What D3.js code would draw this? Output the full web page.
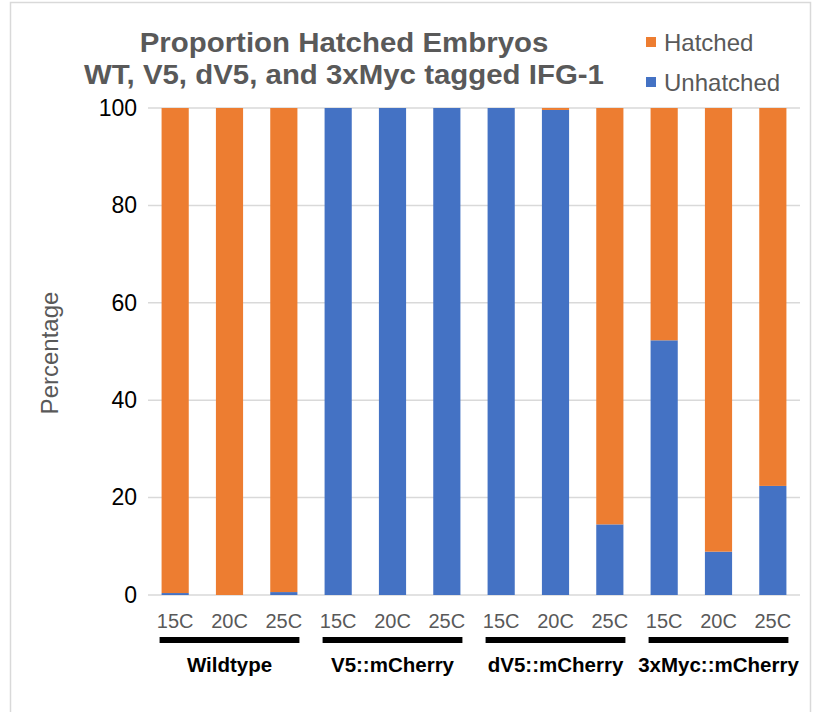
<!DOCTYPE html>
<html><head><meta charset="utf-8">
<script src="https://cdn.jsdelivr.net/npm/d3@7"></script>
<style>body{margin:0;background:#fff;}svg{display:block;font-family:"Liberation Sans",Arial,sans-serif;}</style>
</head><body>
<svg id="chart" width="817" height="712"></svg>
<script>
const groups = ["Wildtype", "V5::mCherry", "dV5::mCherry", "3xMyc::mCherry"];
const temps = ["15C", "20C", "25C"];
const unhatched = [0.4, 0, 0.6, 100, 100, 100, 100, 99.6, 14.5, 52.3, 8.9, 22.4];
const hatched = [99.6, 100, 99.4, 0, 0, 0, 0, 0.4, 85.5, 47.7, 91.1, 77.6];
const yTicks = [0, 20, 40, 60, 80, 100];
const titleLines = ["Proportion Hatched Embryos", "WT, V5, dV5, and 3xMyc tagged IFG-1"];
const seriesNames = ["Hatched", "Unhatched"];
const colors = {Hatched: "#ED7D31", Unhatched: "#4472C4"};

const svg = d3.select("#chart");
// frame
svg.append("rect").attr("x", 10.5).attr("y", 2.5).attr("width", 800).attr("height", 720)
  .attr("fill", "#fff").attr("stroke", "#d9d9d9").attr("stroke-width", 1.5);

const cats = d3.range(groups.length * temps.length);
const x = d3.scaleBand().domain(cats).range([148, 800]).paddingInner(0.5).paddingOuter(0.25);
const y = d3.scaleLinear().domain([0, 100]).range([595, 108]);

// gridlines
svg.append("g").selectAll("line").data(yTicks).join("line")
  .attr("x1", 148).attr("x2", 800)
  .attr("y1", d => y(d)).attr("y2", d => y(d))
  .attr("stroke", "#d9d9d9").attr("stroke-width", 1.5);

// y axis labels
const yAxis = svg.append("g").attr("transform", "translate(140,0)")
  .call(d3.axisLeft(y).tickValues(yTicks).tickSize(0).tickPadding(3));
yAxis.select(".domain").remove();
yAxis.selectAll("text").attr("font-size", 23).attr("fill", "#000")
  .attr("font-family", "Liberation Sans, Arial, sans-serif");

// stacked bars
const rows = cats.map(i => ({i, Unhatched: unhatched[i], Hatched: hatched[i]}));
const stack = d3.stack().keys(["Unhatched", "Hatched"])(rows);
svg.append("g").selectAll("g").data(stack).join("g")
  .attr("fill", d => colors[d.key])
  .selectAll("rect").data(d => d).join("rect")
  .attr("x", d => x(d.data.i))
  .attr("width", x.bandwidth())
  .attr("y", d => y(d[1]))
  .attr("height", d => y(d[0]) - y(d[1]));

// x category labels
svg.append("g").selectAll("text").data(cats).join("text")
  .attr("x", d => x(d) + x.bandwidth() / 2)
  .attr("y", 628)
  .attr("text-anchor", "middle")
  .attr("font-size", 20).attr("fill", "#595959")
  .text(d => temps[d % temps.length]);

// group bars and labels
groups.forEach((g, gi) => {
  const first = x(gi * 3), last = x(gi * 3 + 2) + x.bandwidth();
  svg.append("rect").attr("x", first - 2).attr("y", 637).attr("width", last - first + 4).attr("height", 6).attr("fill", "#000");
  svg.append("text").attr("x", (first + last) / 2).attr("y", 672)
    .attr("text-anchor", "middle").attr("font-size", 20.5).attr("font-weight", "bold").attr("fill", "#000")
    .text(g);
});

// y axis title
svg.append("text").attr("transform", "translate(58,353) rotate(-90)")
  .attr("text-anchor", "middle").attr("font-size", 24).attr("fill", "#595959")
  .text("Percentage");

// title
svg.append("g").selectAll("text").data(titleLines).join("text")
  .attr("transform", (d, i) => `translate(344,${52 + i * 31.5}) scale(1.09,1)`)
  .attr("text-anchor", "middle").attr("font-size", 27).attr("font-weight", "bold").attr("fill", "#595959")
  .text(d => d);

// legend
const lg = svg.append("g").selectAll("g").data(seriesNames).join("g")
  .attr("transform", (d, i) => `translate(646,${37 + i * 40})`);
lg.append("rect").attr("width", 10).attr("height", 10).attr("fill", d => colors[d]);
lg.append("text").attr("x", 18).attr("y", 14).attr("font-size", 24).attr("fill", "#595959").text(d => d);
</script>
</body></html>
